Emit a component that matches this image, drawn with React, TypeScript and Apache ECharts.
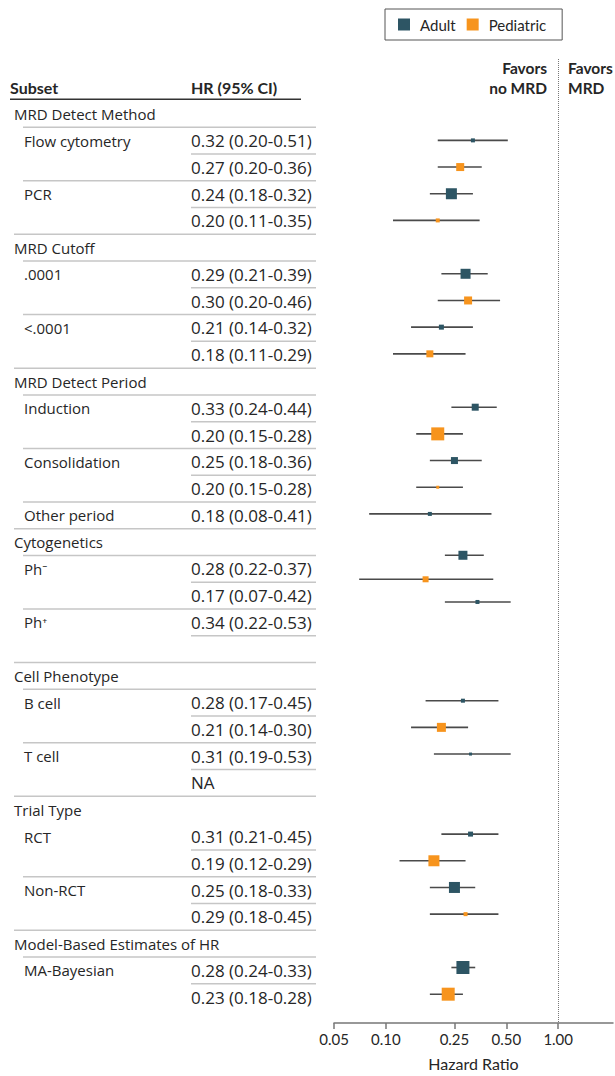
import React, { useEffect, useRef } from "react";
import * as echarts from "echarts";

// ---- table content ----
const subsetLabels = [
  "MRD Detect Method", "Flow cytometry", "", "PCR", "",
  "MRD Cutoff", ".0001", "", "<.0001", "",
  "MRD Detect Period", "Induction", "", "Consolidation", "", "Other period",
  "Cytogenetics", "Ph\u207B", "", "Ph\u207A", "",
  "Cell Phenotype", "B cell", "", "T cell", "",
  "Trial Type", "RCT", "", "Non-RCT", "",
  "Model-Based Estimates of HR", "MA-Bayesian", "",
];
// 0 = group header, 1 = subgroup label, 2 = continuation row
const rowLevels = [
  0, 1, 2, 1, 2,
  0, 1, 2, 1, 2,
  0, 1, 2, 1, 2, 1,
  0, 1, 2, 1, 2,
  0, 1, 2, 1, 2,
  0, 1, 2, 1, 2,
  0, 1, 2,
];
const hrTexts = [
  "", "0.32 (0.20-0.51)", "0.27 (0.20-0.36)", "0.24 (0.18-0.32)", "0.20 (0.11-0.35)",
  "", "0.29 (0.21-0.39)", "0.30 (0.20-0.46)", "0.21 (0.14-0.32)", "0.18 (0.11-0.29)",
  "", "0.33 (0.24-0.44)", "0.20 (0.15-0.28)", "0.25 (0.18-0.36)", "0.20 (0.15-0.28)", "0.18 (0.08-0.41)",
  "", "0.28 (0.22-0.37)", "0.17 (0.07-0.42)", "0.34 (0.22-0.53)", "",
  "", "0.28 (0.17-0.45)", "0.21 (0.14-0.30)", "0.31 (0.19-0.53)", "NA",
  "", "0.31 (0.21-0.45)", "0.19 (0.12-0.29)", "0.25 (0.18-0.33)", "0.29 (0.18-0.45)",
  "", "0.28 (0.24-0.33)", "0.23 (0.18-0.28)",
];
// rows that have no rule above them
const rowsWithoutRuleAbove = [27];

// ---- forest data ----
const adultRows = [1, 3, 6, 8, 11, 13, 15, 16.55, 18.3, 22, 24, 27, 29, 32];
const adultHR = [0.32, 0.24, 0.29, 0.21, 0.33, 0.25, 0.18, 0.28, 0.34, 0.28, 0.31, 0.31, 0.25, 0.28];
const adultLo = [0.20, 0.18, 0.21, 0.14, 0.24, 0.18, 0.08, 0.22, 0.22, 0.17, 0.19, 0.21, 0.18, 0.24];
const adultHi = [0.51, 0.32, 0.39, 0.32, 0.44, 0.36, 0.41, 0.37, 0.53, 0.45, 0.53, 0.45, 0.33, 0.33];
const adultWeight = [4, 11, 10, 5, 7, 7, 4, 9, 4, 4, 3, 5, 11, 13];

const pedRows = [2, 4, 7, 9, 12, 14, 17.45, 23, 28, 30, 33];
const pedHR = [0.27, 0.20, 0.30, 0.18, 0.20, 0.20, 0.17, 0.21, 0.19, 0.29, 0.23];
const pedLo = [0.20, 0.11, 0.20, 0.11, 0.15, 0.15, 0.07, 0.14, 0.12, 0.18, 0.18];
const pedHi = [0.36, 0.35, 0.46, 0.29, 0.28, 0.28, 0.42, 0.30, 0.29, 0.45, 0.28];
const pedWeight = [8, 4, 8, 7, 13, 3, 6, 9, 11, 4, 13];

const tickValues = [0.05, 0.1, 0.25, 0.5, 1.0];
const axisMin = 0.05;
const axisMax = 2.08;

const ADULT = "#2d5564";
const PED = "#f7941d";
const FONT = "Lato, 'Noto Sans', sans-serif";
const TFONT = "'Open Sans', 'Noto Sans', sans-serif";
const TEXT = "#262626";

const L = (v: number) => Math.log10(v);

export default function App() {
  const ref = useRef<HTMLDivElement>(null);
  useEffect(() => {
    if (!ref.current) return;
    const chart = echarts.init(ref.current, undefined, { renderer: "svg" });

    const tableData = [-1, ...subsetLabels.map((_, i) => i)].map((r) => [0, r]);

    const ciData = (rows: number[], lo: number[], hi: number[]) =>
      rows.map((r, i) => [L(lo[i]), L(hi[i]), r]);
    const ptData = (rows: number[], hr: number[], w: number[]) =>
      rows.map((r, i) => [L(hr[i]), r, w[i]]);

    const ciRender = (params: any, api: any) => {
      const a = api.coord([api.value(0), api.value(2)]);
      const b = api.coord([api.value(1), api.value(2)]);
      return {
        type: "line",
        shape: { x1: a[0], y1: a[1], x2: b[0], y2: b[1] },
        style: { stroke: "#4a4a4a", lineWidth: 1.6 },
      };
    };

    const tableRender = (params: any, api: any) => {
      const row = api.value(1);
      const y = api.coord([0, row])[1];
      const children: any[] = [];
      if (row < 0) {
        const yLine = api.coord([0, -0.55])[1];
        children.push(
          { type: "text", x: api.coord([10, row])[0], y, style: { text: "Subset", fill: TEXT, font: `bold 16px ${FONT}`, verticalAlign: "middle", align: "left" } },
          { type: "text", x: api.coord([191, row])[0], y, style: { text: "HR (95% CI)", fill: TEXT, font: `bold 16px ${FONT}`, verticalAlign: "middle", align: "left" } },
          { type: "line", shape: { x1: api.coord([10, row])[0], y1: yLine, x2: api.coord([301, row])[0], y2: yLine }, style: { stroke: "#333", lineWidth: 1.5 } }
        );
        return { type: "group", children };
      }
      const level = rowLevels[row];
      const label = subsetLabels[row];
      const hr = hrTexts[row];
      if (label) {
        children.push({
          type: "text",
          x: api.coord([level === 0 ? 14 : 24, row])[0],
          y,
          style: { text: label, fill: TEXT, font: `15px ${TFONT}`, verticalAlign: "middle", align: "left" },
        });
      }
      if (hr) {
        children.push({
          type: "text",
          x: api.coord([191, row])[0],
          y,
          style: { text: hr, fill: TEXT, font: `17px ${TFONT}`, verticalAlign: "middle", align: "left" },
        });
      }
      if (row > 0 && rowsWithoutRuleAbove.indexOf(row) < 0) {
        const yr = api.coord([0, row - 0.5])[1];
        const xs = level === 0 ? 14 : level === 1 ? 23 : 191;
        children.push({
          type: "line",
          shape: { x1: api.coord([xs, row])[0], y1: yr, x2: api.coord([316, row])[0], y2: yr },
          style: { stroke: "#c6c6c6", lineWidth: 1.5 },
        });
      }
      return { type: "group", children };
    };

    const favorsStyle = (text: string, align: string) => ({
      text,
      fill: TEXT,
      font: `bold 15.5px ${FONT}`,
      align,
      verticalAlign: "middle",
    });

    chart.setOption({
      animation: false,
      backgroundColor: "#fff",
      textStyle: { fontFamily: FONT },
      legend: {
        data: ["Adult", "Pediatric"],
        left: 385,
        top: 9,
        icon: "rect",
        itemWidth: 12,
        itemHeight: 12,
        itemGap: 11,
        padding: [8, 16, 8, 13],
        borderColor: "#555",
        borderWidth: 1,
        textStyle: { fontSize: 15, color: TEXT, fontFamily: FONT, padding: [0, 0, 0, 5] },
      },
      grid: [
        { left: 334, right: 2, top: 59, bottom: 50 },
        { left: 0, width: 320, top: 59, bottom: 50 },
      ],
      xAxis: [
        {
          gridIndex: 0,
          type: "value",
          position: "bottom",
          min: L(axisMin),
          max: L(axisMax),
          name: "Hazard Ratio",
          nameLocation: "middle",
          nameGap: 32,
          nameTextStyle: { fontSize: 16, color: TEXT, fontFamily: FONT },
          axisLine: { show: true, onZero: false, lineStyle: { color: "#777", width: 1.5 } },
          axisTick: { show: true, length: 6, customValues: tickValues.map(L), lineStyle: { color: "#777", width: 1.5 } },
          axisLabel: {
            customValues: tickValues.map(L),
            formatter: (v: number) => Math.pow(10, v).toFixed(2),
            fontSize: 15,
            color: TEXT,
            fontFamily: FONT,
            margin: 8,
          },
          splitLine: { show: false },
        },
        { gridIndex: 1, type: "value", min: 0, max: 320, show: false },
      ],
      yAxis: [
        { gridIndex: 0, type: "value", inverse: true, min: -2.05, max: 34.08, show: false },
        { gridIndex: 1, type: "value", inverse: true, min: -2.05, max: 34.08, show: false },
      ],
      graphic: [
        { type: "text", x: 547, y: 68, style: favorsStyle("Favors", "right") },
        { type: "text", x: 547, y: 88, style: favorsStyle("no MRD", "right") },
        { type: "text", x: 568, y: 68, style: favorsStyle("Favors", "left") },
        { type: "text", x: 568, y: 88, style: favorsStyle("MRD", "left") },
      ],
      series: [
        {
          type: "custom",
          name: "table",
          xAxisIndex: 1,
          yAxisIndex: 1,
          renderItem: tableRender,
          data: tableData,
          encode: { x: 0, y: 1 },
          silent: true,
        },
        {
          type: "custom",
          name: "AdultCI",
          xAxisIndex: 0,
          yAxisIndex: 0,
          renderItem: ciRender,
          data: ciData(adultRows, adultLo, adultHi),
          encode: { x: [0, 1], y: 2 },
          silent: true,
          z: 2,
        },
        {
          type: "custom",
          name: "PedCI",
          xAxisIndex: 0,
          yAxisIndex: 0,
          renderItem: ciRender,
          data: ciData(pedRows, pedLo, pedHi),
          encode: { x: [0, 1], y: 2 },
          silent: true,
          z: 2,
        },
        {
          type: "scatter",
          name: "Adult",
          xAxisIndex: 0,
          yAxisIndex: 0,
          symbol: "rect",
          symbolSize: (v: number[]) => v[2],
          itemStyle: { color: ADULT, opacity: 1 },
          data: ptData(adultRows, adultHR, adultWeight),
          z: 5,
          markLine: {
            silent: true,
            symbol: ["none", "none"],
            label: { show: false },
            lineStyle: { type: "dotted", color: "#777", width: 1 },
            data: [{ xAxis: 0 }],
          },
        },
        {
          type: "scatter",
          name: "Pediatric",
          xAxisIndex: 0,
          yAxisIndex: 0,
          symbol: "rect",
          symbolSize: (v: number[]) => v[2],
          itemStyle: { color: PED, opacity: 1 },
          data: ptData(pedRows, pedHR, pedWeight),
          z: 5,
        },
      ],
    });
    return () => chart.dispose();
  }, []);
  return (
    <div
      ref={ref}
      style={{ position: "fixed", left: 0, top: 0, width: 615, height: 1076, background: "#fff" }}
    />
  );
}
